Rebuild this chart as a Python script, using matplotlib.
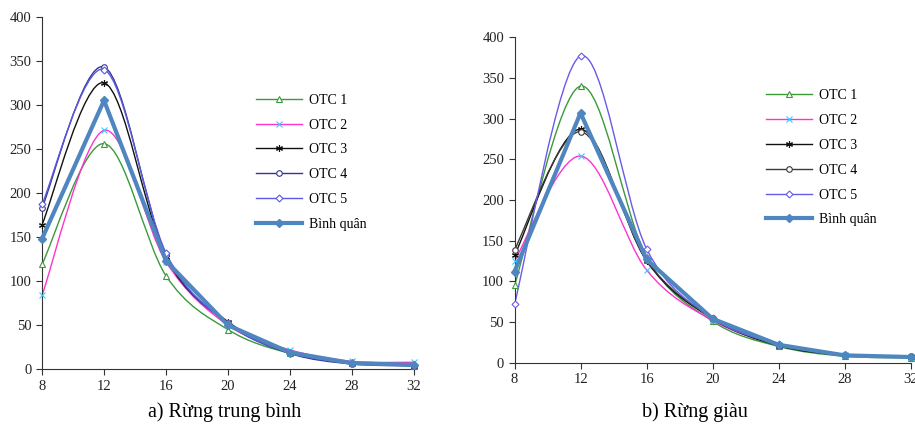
import matplotlib
matplotlib.use("Agg")
import matplotlib.pyplot as plt
from matplotlib.path import Path
from matplotlib.patches import PathPatch
from matplotlib.lines import Line2D

plt.rcParams['font.family'] = ['Liberation Serif', 'DejaVu Serif']

# đường kính (cm)
d_classes = [8, 12, 16, 20, 24, 28, 32]

# a) Rừng trung bình
otc1_a = [119, 256, 106, 45, 18, 7, 4]
otc2_a = [84, 271, 122, 50, 22, 9, 8]
otc3_a = [164, 325, 127, 54, 19, 7, 4]
otc4_a = [183, 343, 130, 52, 18, 6, 4]
otc5_a = [187, 340, 132, 52, 19, 7, 5]
avg_a = [148, 305, 123, 50, 19, 7, 5]

# b) Rừng giàu
otc1_b = [95, 340, 130, 51, 20, 8, 6]
otc2_b = [125, 254, 114, 52, 22, 9, 7]
otc3_b = [132, 287, 125, 54, 21, 9, 7]
otc4_b = [139, 284, 126, 55, 22, 10, 8]
otc5_b = [72, 377, 140, 55, 23, 10, 7]
avg_b = [112, 307, 127, 54, 22, 9, 7]

labels = ['OTC 1', 'OTC 2', 'OTC 3', 'OTC 4', 'OTC 5', 'Bình quân']
captions = ['a) Rừng trung bình', 'b) Rừng giàu']

AVG_COLOR = '#4f86c0'


def smooth_path(x, y):
    # đường cong kiểu Excel (Catmull-Rom -> Bezier)
    pts = list(zip(x, y))
    verts = [pts[0]]
    codes = [Path.MOVETO]
    n = len(pts)
    for i in range(n - 1):
        p0 = pts[i - 1] if i > 0 else pts[i]
        p1 = pts[i]
        p2 = pts[i + 1]
        p3 = pts[i + 2] if i + 2 < n else pts[i + 1]
        c1 = (p1[0] + (p2[0] - p0[0]) / 6, p1[1] + (p2[1] - p0[1]) / 6)
        c2 = (p2[0] - (p3[0] - p1[0]) / 6, p2[1] - (p3[1] - p1[1]) / 6)
        verts += [c1, c2, p2]
        codes += [Path.CURVE4] * 3
    return Path(verts, codes)


def draw_panel(ax, series, styles):
    for vals, st in zip(series[:-1], styles[:-1]):
        ax.add_patch(PathPatch(smooth_path(d_classes, vals), fill=False,
                               edgecolor=st['color'], lw=1.0, zorder=2))
        ax.plot(d_classes, vals, ls='none', marker=st['marker'], ms=st['ms'],
                mfc=st['mfc'], mec=st['mec'], mew=0.8, clip_on=False, zorder=3)
    st = styles[-1]
    ax.plot(d_classes, series[-1], color=st['color'], lw=3, marker='D', ms=4.5,
            mfc=st['color'], mec=st['color'], clip_on=False, zorder=4)

    ax.set_xlim(8, 32)
    ax.set_ylim(0, 400)
    ax.set_xticks(d_classes)
    ax.set_yticks(range(0, 401, 50))
    ax.spines['top'].set_visible(False)
    ax.spines['right'].set_visible(False)
    ax.spines['left'].set_color('#333333')
    ax.spines['bottom'].set_color('#333333')
    ax.tick_params(direction='out', length=4, width=0.8, labelsize=10.5,
                   colors='#333333', labelcolor='#222222')
    ax.set_facecolor('none')


def make_styles(c4, c5):
    return [
        dict(color='#3a9a3a', marker='^', ms=4, mfc='white', mec='#3a9a3a'),
        dict(color='#ff33cc', marker='x', ms=4, mfc='#33ccff', mec='#33ccff'),
        dict(color='#111111', marker=(6, 2, 0), ms=5, mfc='#111111', mec='#111111'),
        dict(color=c4, marker='o', ms=4, mfc='white', mec=c4),
        dict(color=c5, marker='D', ms=3.5, mfc='white', mec=c5),
        dict(color=AVG_COLOR),
    ]


def legend_handles(styles):
    hs = []
    for st in styles[:-1]:
        hs.append(Line2D([], [], color=st['color'], lw=1.0, marker=st['marker'],
                         ms=st['ms'], mfc=st['mfc'], mec=st['mec'], mew=0.8))
    hs.append(Line2D([], [], color=AVG_COLOR, lw=3, marker='D', ms=4.5,
                     mfc=AVG_COLOR, mec=AVG_COLOR))
    return hs


fig = plt.figure(figsize=(9.15, 4.42), dpi=100)

ax1 = fig.add_axes([0.0459, 0.1645, 0.4066, 0.7977])
ax2 = fig.add_axes([0.5623, 0.1794, 0.4330, 0.7362])

styles_a = make_styles('#35358f', '#5a5ae0')
styles_b = make_styles('#3a3a3a', '#6a5ae8')

draw_panel(ax1, [otc1_a, otc2_a, otc3_a, otc4_a, otc5_a, avg_a], styles_a)
draw_panel(ax2, [otc1_b, otc2_b, otc3_b, otc4_b, otc5_b, avg_b], styles_b)

for styles, anchor in [(styles_a, (0.280, 0.633)), (styles_b, (0.837, 0.643))]:
    fig.legend(legend_handles(styles), labels, loc='center left',
               bbox_to_anchor=anchor, frameon=False, fontsize=10,
               handlelength=3.3, handletextpad=0.5, labelspacing=0.85,
               borderpad=0, borderaxespad=0)

fig.text(225 / 915, 1 - 412 / 442, captions[0], ha='center', va='center', fontsize=14.5)
fig.text(695 / 915, 1 - 412 / 442, captions[1], ha='center', va='center', fontsize=14.5)

fig.savefig('out.png', dpi=100)
plt.close(fig)
